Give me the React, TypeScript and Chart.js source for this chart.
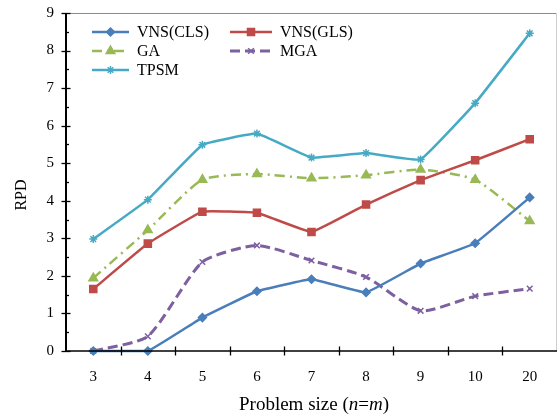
import React, { useEffect, useRef } from "react";
import { Chart, registerables } from "chart.js";
import { drawPoint } from "chart.js/helpers";

Chart.register(...registerables);

const categories = ["3", "4", "5", "6", "7", "8", "9", "10", "20"];
const vnsCls = [0, 0, 0.89, 1.59, 1.91, 1.56, 2.33, 2.87, 4.09];
const vnsGls = [1.65, 2.86, 3.71, 3.68, 3.17, 3.9, 4.55, 5.08, 5.64];
const gaVals = [1.94, 3.22, 4.56, 4.71, 4.6, 4.68, 4.83, 4.56, 3.46];
const mgaVals = [0, 0.39, 2.37, 2.81, 2.41, 1.97, 1.07, 1.46, 1.66];
const tpsmVals = [2.98, 4.03, 5.49, 5.79, 5.15, 5.27, 5.1, 6.6, 8.46];
const seriesLabels = ["VNS(CLS)", "VNS(GLS)", "GA", "MGA", "TPSM"];

const FONT = "'Liberation Serif', 'Times New Roman', serif";

const styles = [
  { color: "#4a7ebb", dash: [] as number[], point: "rectRot", radius: 4, width: 2.5, tension: 0.08 },
  { color: "#be4b48", dash: [] as number[], point: "rect", radius: 5, width: 2.5, tension: 0.08 },
  { color: "#98b954", dash: [10, 5, 2, 5], point: "triangle", radius: 5, width: 2.5, tension: 0.2 },
  { color: "#7d60a0", dash: [10, 5], point: "crossRot", radius: 4, width: 3, tension: 0.2 },
  { color: "#46aac5", dash: [] as number[], point: "star", radius: 4, width: 2.5, tension: 0.08 },
];

const decor = {
  id: "decor",
  afterDraw(chart: any) {
    const ctx = chart.ctx;
    const ca = chart.chartArea;
    const ys = chart.scales.y;
    ctx.save();
    // top & right frame
    ctx.strokeStyle = "#8c8c8c";
    ctx.lineWidth = 1;
    ctx.beginPath();
    ctx.moveTo(ca.left, ca.top + 0.5);
    ctx.lineTo(ca.right - 0.5, ca.top + 0.5);
    ctx.stroke();
    ctx.strokeStyle = "#d0d0d0";
    ctx.beginPath();
    ctx.moveTo(ca.right - 0.5, ca.top);
    ctx.lineTo(ca.right - 0.5, ca.bottom);
    ctx.stroke();
    // axes
    ctx.strokeStyle = "#000";
    ctx.lineWidth = 2;
    ctx.beginPath();
    ctx.moveTo(ca.left, ca.top);
    ctx.lineTo(ca.left, ca.bottom + 1);
    ctx.stroke();
    ctx.lineWidth = 1.5;
    ctx.beginPath();
    ctx.moveTo(ca.left, ca.bottom);
    ctx.lineTo(ca.right, ca.bottom);
    ctx.stroke();
    // y ticks
    ctx.lineWidth = 1.3;
    for (let v = 0; v <= 9; v += 0.5) {
      const y = Math.round(ys.getPixelForValue(v)) + 0.5;
      ctx.beginPath();
      if (Number.isInteger(v)) {
        ctx.moveTo(ca.left - 4.5, y);
        ctx.lineTo(ca.left + 4.5, y);
      } else {
        ctx.moveTo(ca.left, y);
        ctx.lineTo(ca.left + 3, y);
      }
      ctx.stroke();
    }
    // x ticks at category boundaries
    const n = categories.length;
    const step = (ca.right - ca.left) / n;
    for (let i = 1; i < n; i++) {
      const x = Math.round(ca.left + step * i) + 0.5;
      ctx.beginPath();
      ctx.moveTo(x, ca.bottom - 4.5);
      ctx.lineTo(x, ca.bottom + 4.5);
      ctx.stroke();
    }
    // y title
    ctx.fillStyle = "#000";
    ctx.save();
    ctx.translate(22, 195);
    ctx.rotate(-Math.PI / 2);
    ctx.font = `16px ${FONT}`;
    ctx.textAlign = "center";
    ctx.textBaseline = "middle";
    ctx.fillText("RPD", 0, 0);
    ctx.restore();
    // x title with italics
    const parts = [
      { t: "Problem size (", i: false },
      { t: "n", i: true },
      { t: "=", i: false },
      { t: "m", i: true },
      { t: ")", i: false },
    ];
    const fs = 19;
    let total = 0;
    for (const p of parts) {
      ctx.font = `${p.i ? "italic " : ""}${fs}px ${FONT}`;
      total += ctx.measureText(p.t).width;
    }
    let cx = 314 - total / 2;
    ctx.textBaseline = "alphabetic";
    ctx.textAlign = "left";
    for (const p of parts) {
      ctx.font = `${p.i ? "italic " : ""}${fs}px ${FONT}`;
      ctx.fillText(p.t, cx, 410);
      cx += ctx.measureText(p.t).width;
    }
    // legend
    const pos = [
      { x: 92, y: 32 },
      { x: 230, y: 32 },
      { x: 92, y: 51 },
      { x: 230, y: 51 },
      { x: 92, y: 70 },
    ];
    for (let k = 0; k < seriesLabels.length; k++) {
      const s = styles[k];
      const p = pos[k];
      const len = k % 2 === 0 ? 37 : 42;
      ctx.strokeStyle = s.color;
      ctx.lineWidth = s.width;
      ctx.setLineDash(s.dash);
      ctx.beginPath();
      ctx.moveTo(p.x, p.y);
      ctx.lineTo(p.x + len, p.y);
      ctx.stroke();
      ctx.setLineDash([]);
      ctx.fillStyle = s.color;
      ctx.strokeStyle = s.color;
      ctx.lineWidth = 1.5;
      drawPoint(ctx, { pointStyle: s.point as any, radius: s.radius, rotation: 0, borderWidth: 1.5 }, p.x + len / 2, p.y);
      ctx.fillStyle = "#000";
      ctx.font = `16px ${FONT}`;
      ctx.textAlign = "left";
      ctx.textBaseline = "middle";
      ctx.fillText(seriesLabels[k], p.x + len + 8, p.y + 1);
    }
    ctx.restore();
  },
};

export default function App() {
  const ref = useRef<HTMLCanvasElement | null>(null);
  useEffect(() => {
    document.body.style.margin = "0";
    const allData = [vnsCls, vnsGls, gaVals, mgaVals, tpsmVals];
    const chart = new Chart(ref.current as HTMLCanvasElement, {
      type: "line",
      data: {
        labels: categories,
        datasets: allData.map((d, k) => ({
          label: seriesLabels[k],
          data: d,
          borderColor: styles[k].color,
          backgroundColor: styles[k].color,
          borderWidth: styles[k].width,
          borderDash: styles[k].dash,
          pointStyle: styles[k].point as any,
          pointRadius: styles[k].radius,
          pointBorderWidth: 1.5,
          pointBorderColor: styles[k].color,
          pointBackgroundColor: styles[k].color,
          tension: styles[k].tension,
          fill: false,
          clip: false as any,
        })),
      },
      options: {
        animation: false,
        responsive: false,
        devicePixelRatio: 1,
        layout: { autoPadding: false, padding: { left: 0, right: 1, top: 13, bottom: 0 } },
        plugins: { legend: { display: false }, tooltip: { enabled: false } },
        scales: {
          x: {
            offset: true,
            grid: { display: false, drawTicks: false },
            border: { display: false },
            ticks: { color: "#000", font: { family: FONT, size: 15 }, padding: 17 },
            afterFit: (s: any) => {
              s.height = 63;
              s.paddingLeft = 0;
              s.paddingRight = 0;
            },
          },
          y: {
            min: 0,
            max: 9,
            grid: { display: false, drawTicks: false },
            border: { display: false },
            ticks: { stepSize: 1, color: "#000", font: { family: FONT, size: 15 }, padding: 12 },
            afterFit: (s: any) => {
              s.width = 66;
              s.paddingTop = 0;
              s.paddingBottom = 0;
            },
          },
        },
      },
      plugins: [decor],
    });
    return () => chart.destroy();
  }, []);
  return (
    <div style={{ position: "absolute", left: 0, top: 0, width: 558, height: 414, background: "#fff" }}>
      <canvas ref={ref} width={558} height={414} style={{ width: 558, height: 414 }} />
    </div>
  );
}
